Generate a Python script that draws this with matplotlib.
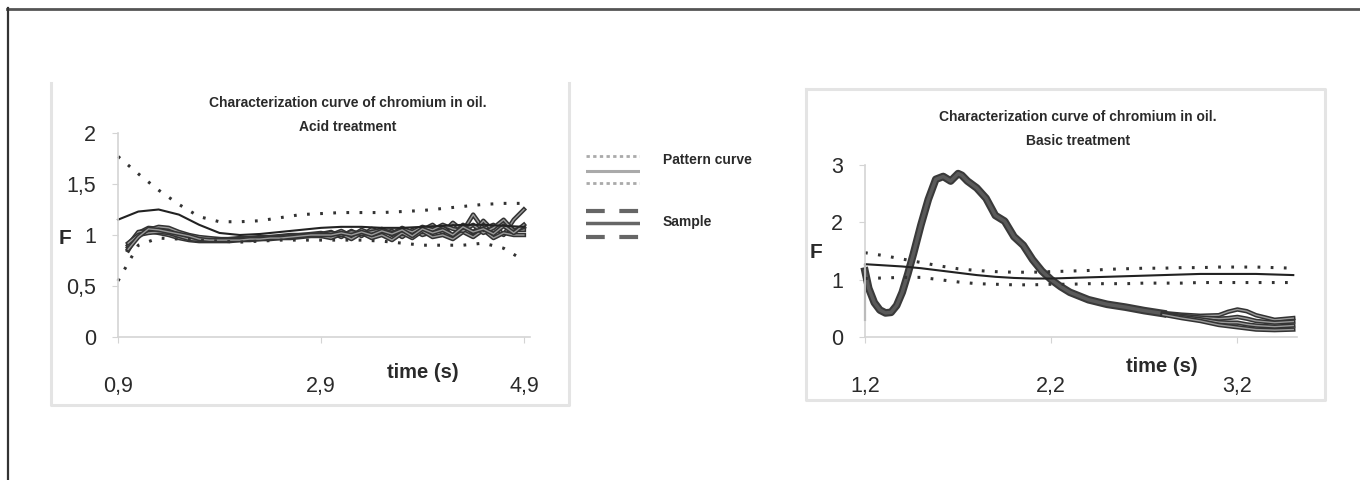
import numpy as np
import matplotlib
matplotlib.use("Agg")
import matplotlib.pyplot as plt
import matplotlib.patheffects as pe
from matplotlib.lines import Line2D

plt.rcParams['font.family'] = ['Liberation Sans', 'DejaVu Sans']

# ---- acid treatment (left) ----
acid_px = [0.9, 1.1, 1.3, 1.5, 1.7, 1.9, 2.1, 2.3, 2.5, 2.7, 2.9, 3.1, 3.3, 3.5, 3.7, 3.9, 4.1, 4.3, 4.5, 4.7, 4.9]
acid_upper = [1.77, 1.6, 1.44, 1.3, 1.18, 1.13, 1.13, 1.14, 1.17, 1.2, 1.21, 1.22, 1.22, 1.22, 1.23, 1.24, 1.26, 1.28, 1.3, 1.31, 1.31]
acid_lower = [0.55, 0.9, 0.97, 0.96, 0.95, 0.94, 0.93, 0.94, 0.95, 0.95, 0.95, 0.95, 0.95, 0.94, 0.92, 0.9, 0.9, 0.9, 0.92, 0.87, 0.75]
acid_mid = [1.15, 1.23, 1.25, 1.2, 1.1, 1.02, 1.0, 1.01, 1.03, 1.05, 1.07, 1.08, 1.08, 1.07, 1.07, 1.08, 1.09, 1.1, 1.1, 1.09, 1.08]

acid_sx = [round(1.0 + 0.1 * i, 1) for i in range(40)]
acid_s1 = [0.85, 1.02, 1.07, 1.06, 1.04, 1.0, 0.98, 0.97, 0.96, 0.96,
           0.96, 0.97, 0.97, 0.98, 0.98, 0.99, 1.0, 1.0, 1.01, 1.02,
           1.0, 1.04, 0.99, 1.05, 1.01, 1.06, 1.0, 1.07, 1.02, 1.05,
           1.1, 1.02, 1.12, 1.04, 1.2, 1.06, 1.1, 1.0, 1.15, 1.25]
acid_s2 = [0.88, 1.0, 1.05, 1.08, 1.07, 1.03, 1.0, 0.98, 0.97, 0.96,
           0.95, 0.96, 0.96, 0.97, 0.97, 0.98, 0.99, 1.0, 1.0, 1.01,
           1.03, 0.98, 1.04, 0.99, 1.06, 1.02, 1.04, 0.98, 1.05, 1.0,
           1.03, 1.08, 0.99, 1.1, 1.02, 1.14, 1.04, 1.12, 1.05, 1.05]
acid_s3 = [0.9, 1.03, 1.04, 1.02, 1.0, 0.97, 0.95, 0.94, 0.94, 0.94,
           0.94, 0.95, 0.95, 0.96, 0.96, 0.97, 0.97, 0.98, 0.99, 0.99,
           0.97, 1.01, 0.96, 1.02, 0.97, 1.0, 0.95, 1.02, 0.97, 1.04,
           0.98, 1.0, 0.96, 1.03, 0.98, 1.05, 0.97, 1.02, 1.0, 1.0]
acid_s4 = [0.92, 1.0, 1.02, 1.03, 1.02, 0.99, 0.96, 0.95, 0.95, 0.95,
           0.96, 0.96, 0.97, 0.97, 0.98, 0.98, 0.99, 0.99, 1.0, 1.0,
           1.02, 1.0, 1.03, 1.01, 1.03, 1.05, 1.02, 1.06, 1.03, 1.08,
           1.05, 1.1, 1.06, 1.04, 1.1, 1.02, 1.07, 1.15, 1.04, 1.08]
acid_s5 = [0.86, 0.98, 1.06, 1.05, 1.03, 1.01, 0.99, 0.96, 0.95, 0.95,
           0.95, 0.95, 0.96, 0.96, 0.97, 0.97, 0.98, 0.99, 1.0, 1.0,
           1.0, 1.02, 1.0, 1.03, 1.0, 1.04, 1.01, 1.05, 0.99, 1.06,
           1.02, 1.05, 1.0, 1.08, 1.03, 1.06, 1.01, 1.09, 1.02, 1.1]
acid_xticks = [0.9, 2.9, 4.9]
acid_xlabels = ['0,9', '2,9', '4,9']
acid_yticks = [0, 0.5, 1, 1.5, 2]
acid_ylabels = ['0', '0,5', '1', '1,5', '2']

# ---- basic treatment (right) ----
basic_px = [round(1.2 + 0.1 * i, 1) for i in range(24)]
basic_upper = [1.47, 1.42, 1.36, 1.3, 1.24, 1.19, 1.16, 1.14, 1.13, 1.13, 1.14, 1.15,
               1.16, 1.18, 1.19, 1.2, 1.2, 1.21, 1.21, 1.22, 1.22, 1.22, 1.21, 1.2]
basic_lower = [1.02, 1.03, 1.04, 1.04, 1.0, 0.96, 0.93, 0.92, 0.91, 0.91, 0.92, 0.92,
               0.93, 0.93, 0.93, 0.94, 0.94, 0.94, 0.95, 0.95, 0.95, 0.95, 0.95, 0.95]
basic_mid = [1.27, 1.25, 1.23, 1.2, 1.16, 1.12, 1.08, 1.05, 1.03, 1.02, 1.02, 1.03,
             1.04, 1.05, 1.06, 1.07, 1.08, 1.09, 1.1, 1.1, 1.1, 1.1, 1.09, 1.08]

basic_spike_x = [1.2, 1.2]
basic_spike_y = [0.3, 1.25]
basic_sx = [1.2, 1.22, 1.25, 1.28, 1.31, 1.34, 1.37, 1.4, 1.43, 1.46, 1.5, 1.54, 1.58,
            1.62, 1.66, 1.7, 1.72, 1.75, 1.8, 1.85, 1.9, 1.95, 2.0, 2.05, 2.1, 2.15, 2.2,
            2.25, 2.3, 2.4, 2.5, 2.6, 2.7, 2.8]
basic_sy = [1.15, 0.85, 0.6, 0.47, 0.42, 0.43, 0.55, 0.78, 1.1, 1.45, 1.95, 2.4, 2.75,
            2.8, 2.72, 2.85, 2.82, 2.72, 2.6, 2.42, 2.12, 2.02, 1.75, 1.6, 1.35, 1.15, 1.0,
            0.88, 0.78, 0.65, 0.57, 0.52, 0.46, 0.41]
basic_tx = [2.8, 2.9, 3.0, 3.1, 3.15, 3.2, 3.25, 3.3, 3.4, 3.5]
basic_t1 = [0.42, 0.39, 0.37, 0.38, 0.44, 0.48, 0.45, 0.38, 0.3, 0.33]
basic_t2 = [0.41, 0.37, 0.34, 0.32, 0.33, 0.35, 0.32, 0.28, 0.25, 0.27]
basic_t3 = [0.4, 0.35, 0.31, 0.26, 0.25, 0.25, 0.22, 0.2, 0.18, 0.2]
basic_t4 = [0.39, 0.33, 0.28, 0.21, 0.19, 0.17, 0.15, 0.13, 0.12, 0.13]
basic_xticks = [1.2, 2.2, 3.2]
basic_xlabels = ['1,2', '2,2', '3,2']
basic_yticks = [0, 1, 2, 3]
basic_ylabels = ['0', '1', '2', '3']

W, H = 1360, 480
fig = plt.figure(figsize=(W / 100, H / 100), dpi=100)


def fx(x):
    return x / W


def fy(y):
    return 1 - y / H


txt = '#2a2a2a'
dots = (0, (0.9, 3.4))
outline = [pe.Stroke(linewidth=3.2, foreground='#333333'), pe.Normal()]

# outer frame (top and left edges only)
fig.add_artist(Line2D([fx(7), 1], [fy(8.5), fy(8.5)], color='#555555', lw=2))
fig.add_artist(Line2D([fx(7.5), fx(7.5)], [fy(8), 0], color='#333333', lw=1.6))

# panel boxes
box = dict(color='#e4e4e4', lw=2.2)
fig.add_artist(Line2D([fx(51), fx(51), fx(569), fx(569)], [fy(83), fy(405), fy(405), fy(83)], **box))
fig.add_artist(Line2D([fx(806), fx(806), fx(1325), fx(1325), fx(806)],
                      [fy(89), fy(400), fy(400), fy(89), fy(89)], **box))


def style_axes(ax, xticks, xlabels, yticks, ylabels):
    for s in ['top', 'right']:
        ax.spines[s].set_visible(False)
    for s in ['left', 'bottom']:
        ax.spines[s].set_color('#d4d4d4')
        ax.spines[s].set_linewidth(1.2)
    ax.set_xticks(xticks)
    ax.set_xticklabels(xlabels)
    ax.set_yticks(yticks)
    ax.set_yticklabels(ylabels)
    ax.tick_params(axis='x', length=4, color='#d4d4d4', pad=24, labelsize=15.5, labelcolor=txt)
    ax.tick_params(axis='y', length=4, color='#d4d4d4', pad=12, labelsize=15.5, labelcolor=txt)
    ax.patch.set_alpha(0)


# left chart
ax1 = fig.add_axes([fx(118), fy(337), fx(530) - fx(118), fy(133) - fy(337)])
ax1.set_xlim(0.9, 4.96)
ax1.set_ylim(0, 2)
for s in [acid_s1, acid_s2, acid_s3, acid_s4, acid_s5]:
    ax1.plot(acid_sx, s, color='#9a9a9a', lw=1.0, path_effects=outline, clip_on=False)
ax1.plot(acid_px, acid_mid, color='#222222', lw=1.5, clip_on=False)
ax1.plot(acid_px, acid_upper, color='#333333', lw=2.2, ls=dots, clip_on=False)
ax1.plot(acid_px, acid_lower, color='#333333', lw=2.2, ls=dots, clip_on=False)
style_axes(ax1, acid_xticks, acid_xlabels, acid_yticks, acid_ylabels)

fig.text(fx(348), fy(103), 'Characterization curve of chromium in oil.', ha='center', va='center',
         fontsize=10, fontweight='bold', color=txt)
fig.text(fx(348), fy(127), 'Acid treatment', ha='center', va='center',
         fontsize=10, fontweight='bold', color=txt)
fig.text(fx(65), fy(238), 'F', ha='center', va='center', fontsize=15, fontweight='bold', color=txt)
fig.text(fx(423), fy(373), 'time (s)', ha='center', va='center', fontsize=14.5, fontweight='bold', color=txt)

# right chart
ax2 = fig.add_axes([fx(865), fy(337), fx(1297) - fx(865), fy(165) - fy(337)])
ax2.set_xlim(1.2, 3.52)
ax2.set_ylim(0, 3)
ax2.plot(basic_spike_x, basic_spike_y, color='#444444', lw=1.5, clip_on=False)
ax2.plot(basic_sx, basic_sy, color='#5a5a5a', lw=2.5,
         path_effects=[pe.Stroke(linewidth=5.5, foreground='#3a3a3a'), pe.Normal()], clip_on=False)
for t in [basic_t1, basic_t2, basic_t3, basic_t4]:
    ax2.plot(basic_tx, t, color='#9a9a9a', lw=1.0, path_effects=outline, clip_on=False)
ax2.plot(basic_px, basic_mid, color='#222222', lw=1.5, clip_on=False)
ax2.plot(basic_px, basic_upper, color='#333333', lw=2.2, ls=dots, clip_on=False)
ax2.plot(basic_px, basic_lower, color='#333333', lw=2.2, ls=dots, clip_on=False)
style_axes(ax2, basic_xticks, basic_xlabels, basic_yticks, basic_ylabels)

fig.text(fx(1078), fy(117), 'Characterization curve of chromium in oil.', ha='center', va='center',
         fontsize=10, fontweight='bold', color=txt)
fig.text(fx(1078), fy(141), 'Basic treatment', ha='center', va='center',
         fontsize=10, fontweight='bold', color=txt)
fig.text(fx(816), fy(253), 'F', ha='center', va='center', fontsize=15, fontweight='bold', color=txt)
fig.text(fx(1162), fy(366), 'time (s)', ha='center', va='center', fontsize=14.5, fontweight='bold', color=txt)

# legend between the charts
axl = fig.add_axes([fx(586), fy(245), fx(640) - fx(586), fy(150) - fy(245)])
axl.set_xlim(0, 1)
axl.set_ylim(245, 150)
axl.axis('off')
axl.plot([0, 1], [156, 156], color='#aaaaaa', lw=2, ls=(0, (1.2, 1.2)))
axl.plot([0, 1], [171, 171], color='#aaaaaa', lw=2.2)
axl.plot([0, 1], [183, 183], color='#aaaaaa', lw=2, ls=(0, (1.2, 1.2)))
axl.plot([0, 1], [211, 211], color='#666666', lw=3, ls=(0, (4.5, 3.5)))
axl.plot([0, 1], [223, 223], color='#666666', lw=2.5)
axl.plot([0, 1], [237, 237], color='#666666', lw=3, ls=(0, (4.5, 3.5)))
fig.text(fx(663), fy(160), 'Pattern curve', ha='left', va='center', fontsize=10, fontweight='bold', color=txt)
fig.text(fx(663), fy(222), 'Sample', ha='left', va='center', fontsize=10, fontweight='bold', color=txt)

fig.savefig('out.png', dpi=100, facecolor='white')
